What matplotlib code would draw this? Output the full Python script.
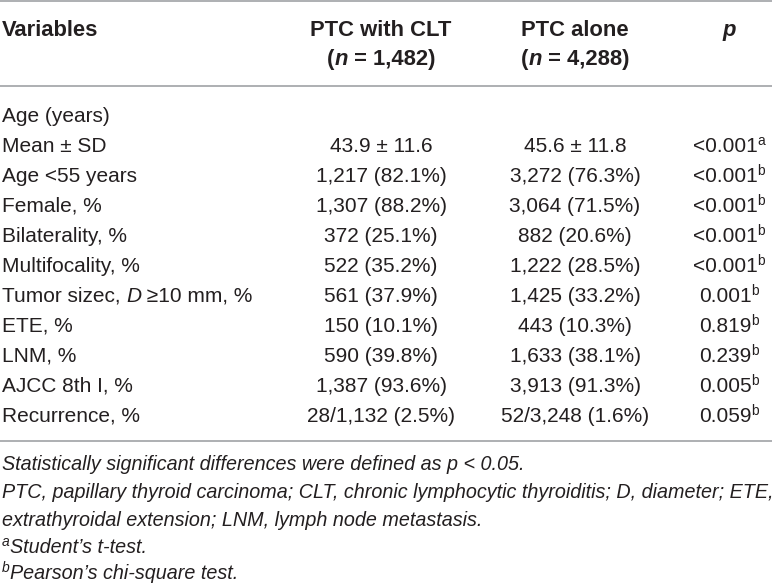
import matplotlib
matplotlib.use('Agg')
import matplotlib.pyplot as plt

# table content
variables = ['Age (years)', 'Mean ± SD', 'Age <55 years', 'Female, %', 'Bilaterality, %',
             'Multifocality, %', 'Tumor sizec, D ≥10 mm, %', 'ETE, %', 'LNM, %',
             'AJCC 8th I, %', 'Recurrence, %']
clt = ['', '43.9 ± 11.6', '1,217 (82.1%)', '1,307 (88.2%)', '372 (25.1%)', '522 (35.2%)',
       '561 (37.9%)', '150 (10.1%)', '590 (39.8%)', '1,387 (93.6%)', '28/1,132 (2.5%)']
alone = ['', '45.6 ± 11.8', '3,272 (76.3%)', '3,064 (71.5%)', '882 (20.6%)', '1,222 (28.5%)',
         '1,425 (33.2%)', '443 (10.3%)', '1,633 (38.1%)', '3,913 (91.3%)', '52/3,248 (1.6%)']
p_vals = ['', '<0.001', '<0.001', '<0.001', '<0.001', '<0.001', '0.001', '0.819', '0.239',
          '0.005', '0.059']
p_marks = ['', 'a', 'b', 'b', 'b', 'b', 'b', 'b', 'b', 'b', 'b']
header_cols = ['Variables', 'PTC with CLT', 'PTC alone', 'p']
header_n = ['1,482', '4,288']
footnotes = [
    'Statistically significant differences were defined as p < 0.05.',
    'PTC, papillary thyroid carcinoma; CLT, chronic lymphocytic thyroiditis; D, diameter; ETE,',
    'extrathyroidal extension; LNM, lymph node metastasis.',
]
foot_marks = [('a', 'Student’s t-test.'), ('b', 'Pearson’s chi-square test.')]

W, H = 772, 588
fig = plt.figure(figsize=(W / 100, H / 100), dpi=100)
ax = fig.add_axes([0, 0, 1, 1])
ax.set_xlim(0, W)
ax.set_ylim(H, 0)
ax.axis('off')

FONT = 'Liberation Sans'
COL = '#231f20'
FS = 15.0
renderer = fig.canvas.get_renderer()


def width(s, kw):
    t1 = ax.text(0, 0, '|' + s + '|', fontfamily=FONT, **kw)
    t2 = ax.text(0, 0, '||', fontfamily=FONT, **kw)
    w = t1.get_window_extent(renderer).width - t2.get_window_extent(renderer).width
    t1.remove()
    t2.remove()
    return w


def put(x, y, runs, ha='left'):
    # runs: list of (text, style dict); 'dy' raises the run
    ws = []
    for s, kw in runs:
        k = dict(kw)
        k.pop('dy', None)
        k.setdefault('fontsize', FS)
        ws.append(width(s, k))
    total = sum(ws)
    cx = x if ha == 'left' else (x - total / 2 if ha == 'center' else x - total)
    for (s, kw), w in zip(runs, ws):
        k = dict(kw)
        dy = k.pop('dy', 0)
        k.setdefault('fontsize', FS)
        ax.text(cx, y - dy, s, fontfamily=FONT, color=COL, va='baseline', ha='left', **k)
        cx += w


HS = 15.8
B = dict(fontweight='bold', fontsize=HS)
BI = dict(fontweight='bold', fontstyle='italic', fontsize=HS)
I = dict(fontstyle='italic')
SUP = dict(fontsize=10, dy=7)

x_lab, x_c2, x_c3, x_p = 2, 381, 575, 729

# rules
for yl in (1, 86, 441):
    ax.plot([0, W], [yl, yl], color='#a7a9ac', lw=1.3, solid_capstyle='butt')

# header
put(x_lab, 36, [(header_cols[0], B)])
put(x_c2, 36, [(header_cols[1], B)], ha='center')
put(x_c3, 36, [(header_cols[2], B)], ha='center')
put(x_p, 36, [(header_cols[3], BI)], ha='center')
put(x_c2, 65, [('(', B), ('n', BI), (' = ' + header_n[0] + ')', B)], ha='center')
put(x_c3, 65, [('(', B), ('n', BI), (' = ' + header_n[1] + ')', B)], ha='center')

# body rows
for i, lab in enumerate(variables):
    y = 122 + 30 * i
    if ', D ' in lab:
        a, b = lab.split(', D ')
        put(x_lab, y, [(a + ', ', {}), ('D', I), (' ' + b, {})])
    else:
        put(x_lab, y, [(lab, {})])
    if clt[i]:
        put(x_c2, y, [(clt[i], {})], ha='center')
        put(x_c3, y, [(alone[i], {})], ha='center')
        put(x_p, y, [(p_vals[i], {}), (p_marks[i], SUP)], ha='center')

# footnotes
FF = dict(fontstyle='italic', fontsize=14.2)
foot_y = [470, 498, 526, 553, 579]
for j, s in enumerate(footnotes):
    put(x_lab, foot_y[j], [(s, FF)])
for j, (m, s) in enumerate(foot_marks):
    put(x_lab, foot_y[3 + j], [(m, dict(fontstyle='italic', fontsize=10, dy=7)), (s, FF)])

fig.savefig('out.png', dpi=100)
